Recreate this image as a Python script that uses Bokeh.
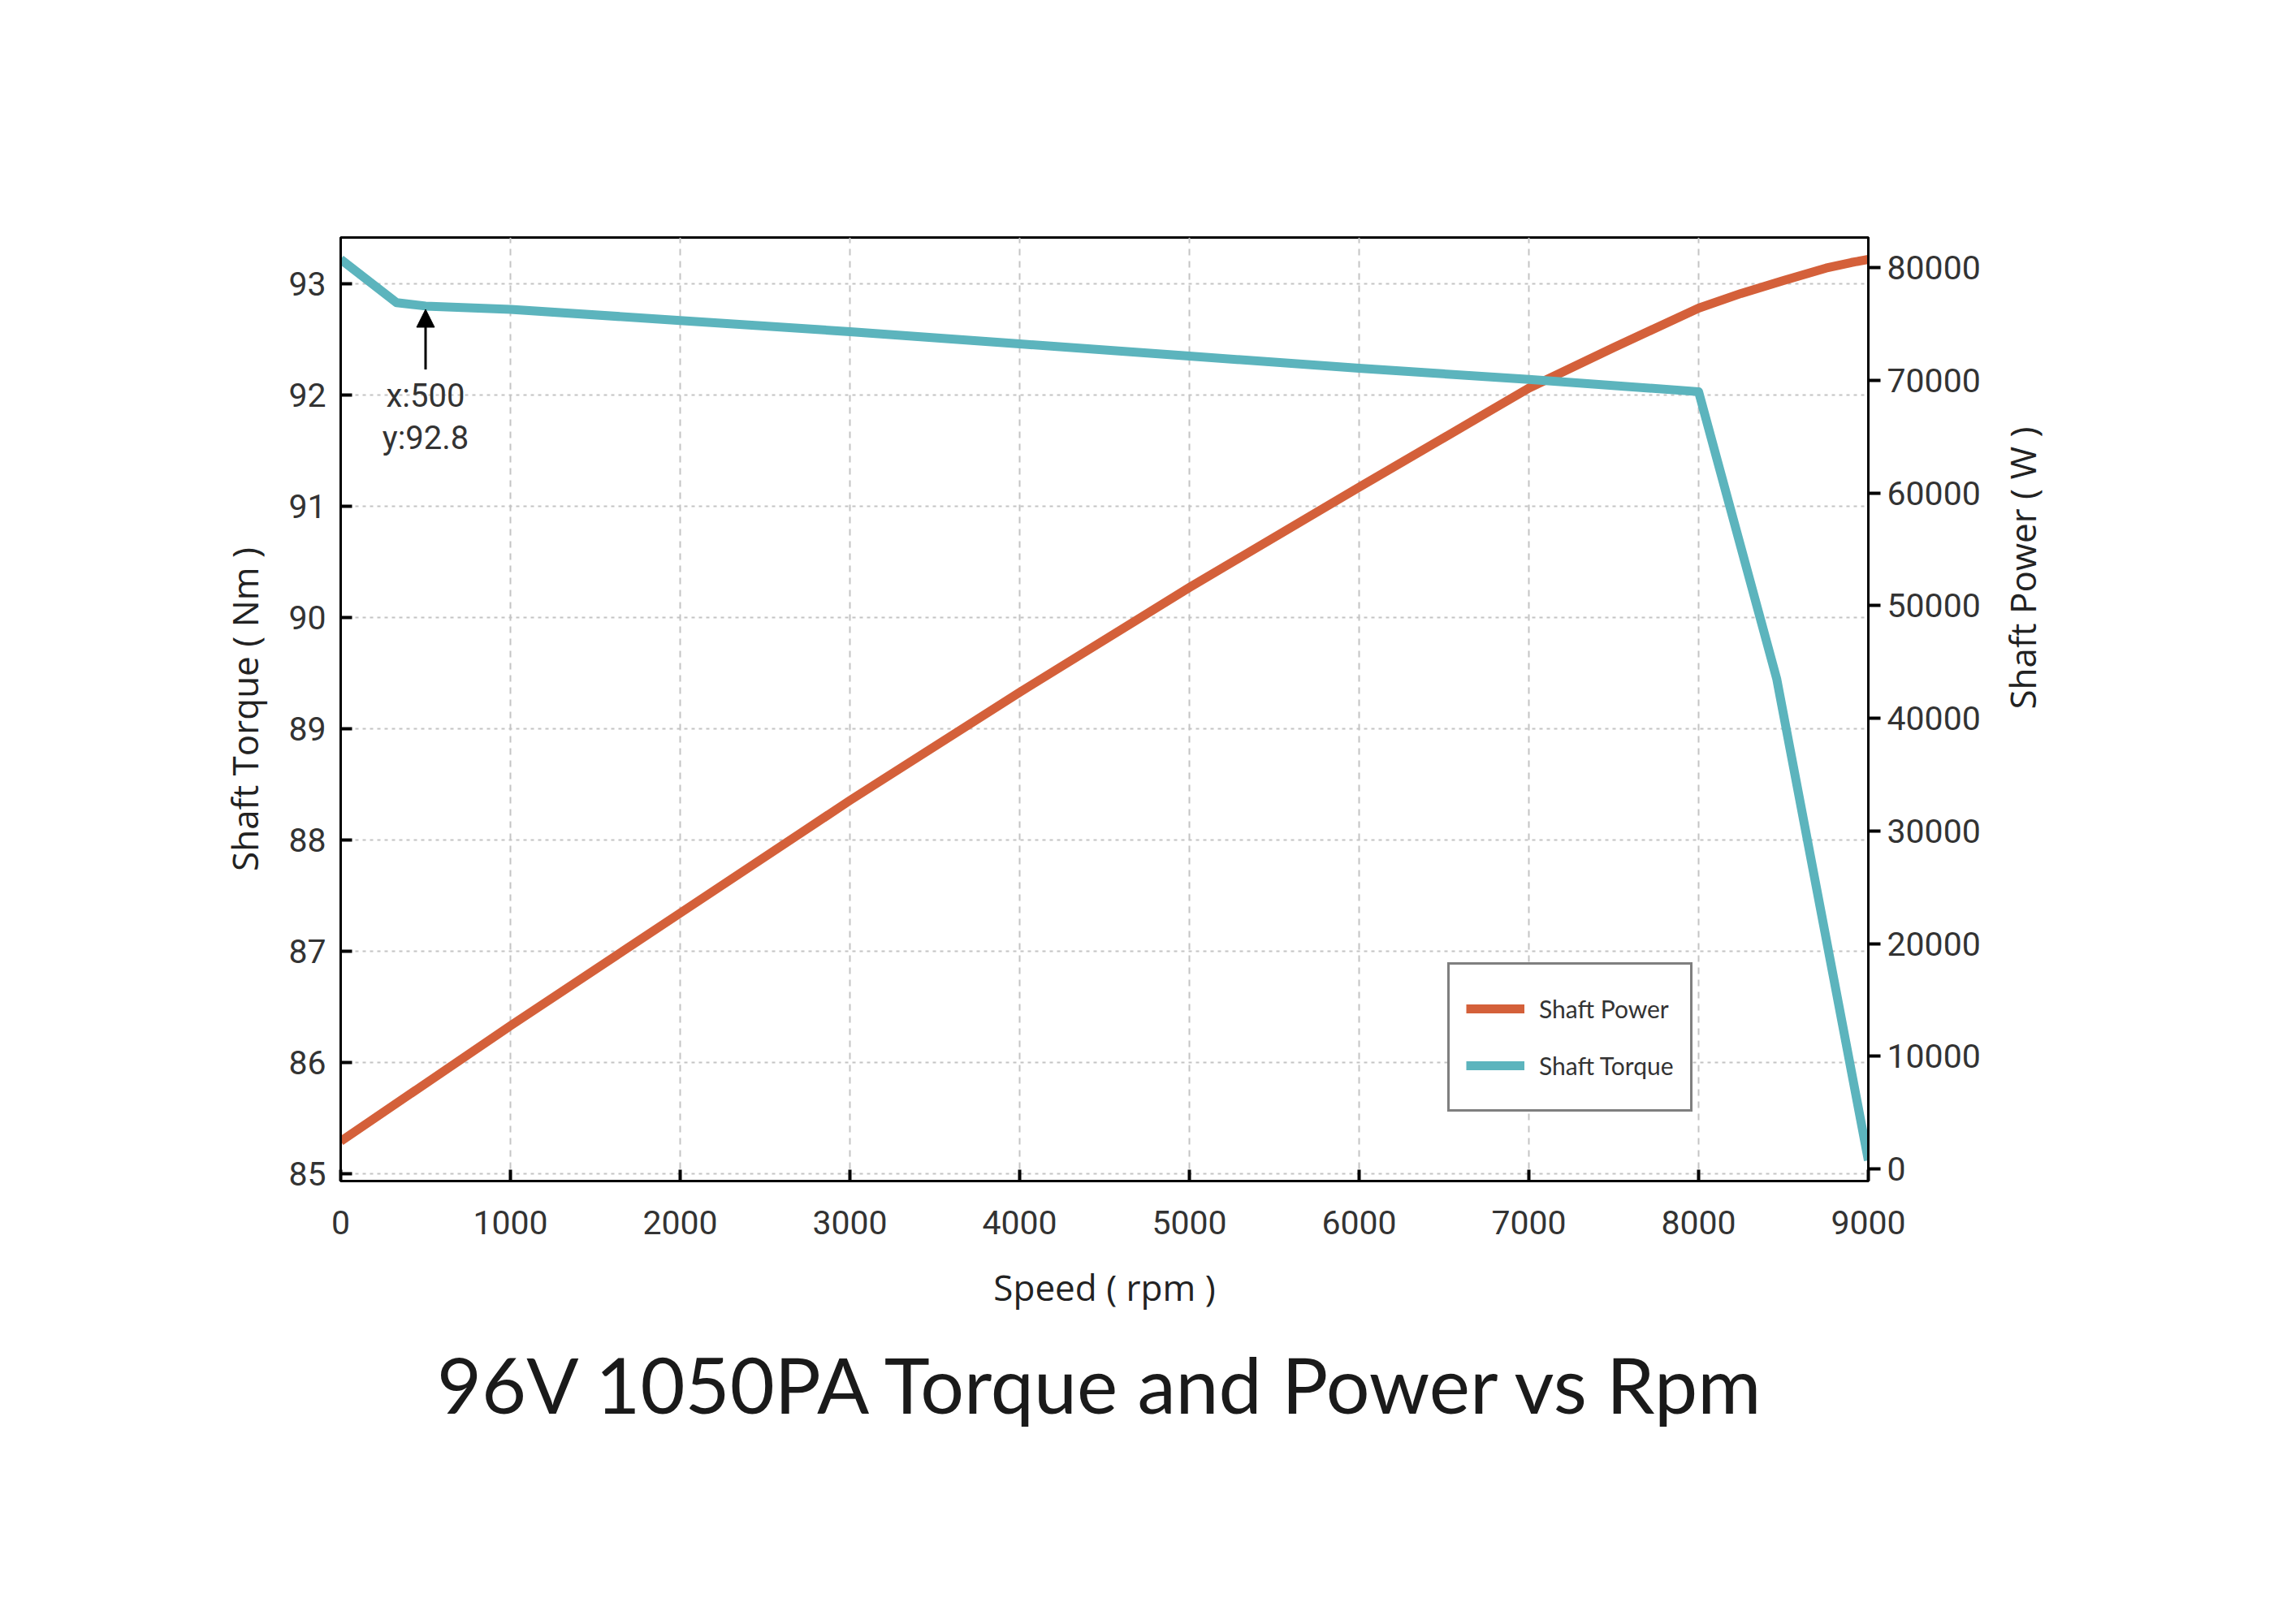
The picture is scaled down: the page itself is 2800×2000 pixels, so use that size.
import math
from bokeh.plotting import figure
from bokeh.models import (Range1d, LinearAxis, FixedTicker, Legend, LegendItem,
                          Label, Arrow, NormalHead, Title)
from bokeh.embed import file_html
from bokeh.resources import INLINE

# ---------------- data ----------------
speed_power = [0, 1000, 2000, 3000, 4000, 5000, 6000, 7000, 7500, 8000, 8250, 8500, 8750, 8900, 9000]
shaft_power = [2450, 12700, 22700, 32700, 42300, 51600, 60500, 69300, 72900, 76400, 77700,
               78850, 79950, 80450, 80720]

speed_torque = [0, 330, 500, 1000, 2000, 3000, 4000, 5000, 6000, 7000, 8000, 8460, 9000]
shaft_torque = [93.22, 92.83, 92.80, 92.77, 92.67, 92.57, 92.46, 92.35, 92.24, 92.14, 92.03, 89.45, 85.12]

speed_ticks = [0, 1000, 2000, 3000, 4000, 5000, 6000, 7000, 8000, 9000]
torque_ticks = [85, 86, 87, 88, 89, 90, 91, 92, 93]
power_ticks = [0, 10000, 20000, 30000, 40000, 50000, 60000, 70000, 80000]

annot_x = 500
annot_y = 92.8

title_text = "96V 1050PA Torque and Power vs Rpm"
x_label = "Speed ( rpm )"
y_label = "Shaft Torque ( Nm )"
y2_label = "Shaft Power ( W )"
series_names = ["Shaft Power", "Shaft Torque"]

# ---------------- styles ----------------
POWER_COLOR = "#d4603a"
TORQUE_COLOR = "#5cb4bd"
TICK_FONT = "Roboto"
LABEL_FONT = "Open Sans"
TITLE_FONT = "Lato"

p = figure(width=2784, height=1984,
           x_range=Range1d(0, 9000), y_range=Range1d(84.934, 93.416),
           output_backend="svg", toolbar_location=None,
           min_border_left=419, min_border_right=484,
           min_border_top=292, min_border_bottom=530,
           background_fill_color="white", border_fill_color="white",
           outline_line_color="black", outline_line_width=3)

p.extra_y_ranges = {"power": Range1d(-1081, 82667)}


def style_axis(ax):
    ax.axis_line_color = "black"
    ax.axis_line_width = 3
    ax.major_tick_line_color = "black"
    ax.major_tick_line_width = 4
    ax.minor_tick_line_color = None
    ax.major_label_text_font = TICK_FONT
    ax.major_label_text_font_size = "41px"
    ax.major_label_text_color = "#333333"
    ax.axis_label_text_font = LABEL_FONT
    ax.axis_label_text_font_size = "44px"
    ax.axis_label_text_font_style = "normal"
    ax.axis_label_text_color = "#222222"


xa = p.xaxis[0]
xa.ticker = FixedTicker(ticks=speed_ticks)
style_axis(xa)
xa.major_tick_in = 14
xa.major_tick_out = 0
xa.major_label_standoff = 36
xa.axis_label = x_label
xa.axis_label_standoff = 32

ya = p.yaxis[0]
ya.ticker = FixedTicker(ticks=torque_ticks)
style_axis(ya)
ya.major_tick_in = 14
ya.major_tick_out = 0
ya.major_label_standoff = 18
ya.axis_label = y_label
ya.axis_label_standoff = 21

ra = LinearAxis(y_range_name="power", ticker=FixedTicker(ticks=power_ticks))
style_axis(ra)
ra.major_tick_in = 0
ra.major_tick_out = 15
ra.major_label_standoff = 8
ra.axis_label = y2_label
ra.axis_label_standoff = 48
try:
    ra.axis_label_orientation = math.pi / 2   # read bottom-to-top like the reference
except Exception:
    pass
p.add_layout(ra, "right")

p.xgrid.grid_line_color = "#c4c4c4"
p.xgrid.grid_line_width = 2
p.xgrid.grid_line_dash = "8 7"
p.ygrid.grid_line_color = "#c4c4c4"
p.ygrid.grid_line_width = 2
p.ygrid.grid_line_dash = "4 5"

r_power = p.line(speed_power, shaft_power, y_range_name="power",
                 line_color=POWER_COLOR, line_width=11, line_join="round")
r_torque = p.line(speed_torque, shaft_torque,
                  line_color=TORQUE_COLOR, line_width=11, line_join="round")

legend = Legend(items=[LegendItem(label=series_names[0], renderers=[r_power]),
                       LegendItem(label=series_names[1], renderers=[r_torque])],
                location=(1363, 85))
legend.border_line_color = "black"
legend.border_line_width = 3
legend.background_fill_color = "white"
legend.background_fill_alpha = 1.0
legend.label_text_font = TITLE_FONT
legend.label_text_font_size = "30px"
legend.label_text_color = "#333333"
legend.glyph_width = 72
legend.glyph_height = 40
legend.label_height = 68
legend.label_standoff = 18
legend.spacing = 2
legend.padding = 20
legend.margin = 0
p.add_layout(legend)

# annotation arrow + text
p.add_layout(Arrow(end=NormalHead(size=22, fill_color="black", line_color="black"),
                   x_start=annot_x, y_start=92.23, x_end=annot_x, y_end=92.77,
                   line_color="black", line_width=3))
p.add_layout(Label(x=annot_x, y=91.99, text=f"x:{annot_x}",
                   text_align="center", text_baseline="middle",
                   text_font=TICK_FONT, text_font_size="40px", text_color="#333333"))
p.add_layout(Label(x=annot_x, y=91.61, text=f"y:{annot_y}",
                   text_align="center", text_baseline="middle",
                   text_font=TICK_FONT, text_font_size="40px", text_color="#333333"))

# title below the chart
title = Title(text=title_text, align="center", text_font=TITLE_FONT,
              text_font_size="95px", text_font_style="normal",
              text_color="#1a1a1a", standoff=54)
p.add_layout(title, "below")

open("out.html", "w").write(file_html(p, INLINE))
